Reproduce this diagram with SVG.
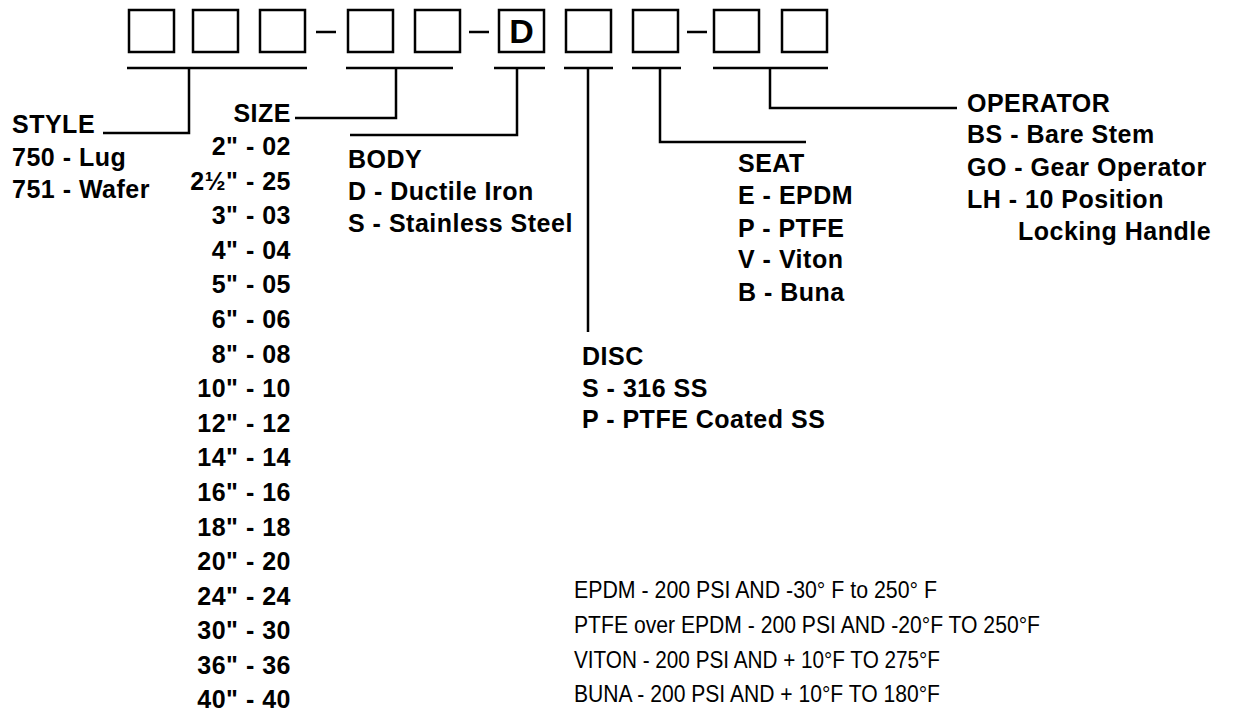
<svg xmlns="http://www.w3.org/2000/svg" width="1233" height="713" viewBox="0 0 1233 713">
<style>
.b{font-family:"Liberation Sans",Arial,sans-serif;font-weight:bold;font-size:25px;letter-spacing:0.5px;fill:#000}
.r{font-family:"Liberation Sans",Arial,sans-serif;font-size:23.5px;fill:#000}
.box{fill:#fff;stroke:#000;stroke-width:2.5}
.ln{fill:none;stroke:#000;stroke-width:2.5}
.e{text-anchor:end}
</style>
<rect width="1233" height="713" fill="#fff"/>
<g id="code-boxes">
<rect class="box" x="129" y="10" width="45" height="42"/>
<rect class="box" x="193" y="10" width="45" height="42"/>
<rect class="box" x="260" y="10" width="45" height="42"/>
<rect class="box" x="348" y="10" width="45" height="42"/>
<rect class="box" x="415" y="10" width="45" height="42"/>
<rect class="box" x="499" y="10" width="45" height="42"/>
<rect class="box" x="566" y="10" width="45" height="42"/>
<rect class="box" x="633" y="10" width="45" height="42"/>
<rect class="box" x="714" y="10" width="45" height="42"/>
<rect class="box" x="782" y="10" width="45" height="42"/>
<text x="521.5" y="43" text-anchor="middle" font-family="'Liberation Sans',Arial,sans-serif" font-size="34" font-weight="bold">D</text>
<path class="ln" d="M316 32H336M469 32H489M687 32H707"/>
</g>
<g id="connectors">
<path class="ln" d="M127 68H307M189 68V133H103"/>
<path class="ln" d="M346 68H453M396 68V118H295"/>
<path class="ln" d="M494 68H545M517 68V135H350"/>
<path class="ln" d="M564 68H613M588 68V332"/>
<path class="ln" d="M632 68H681M660 68V142H806"/>
<path class="ln" d="M713 68H828M770 68V108H957"/>
</g>
<g id="style">
<text class="b" x="12" y="133">STYLE</text>
<text class="b" x="12" y="166">750 - Lug</text>
<text class="b" x="12" y="198">751 - Wafer</text>
</g>
<g id="size">
<text class="b e" x="291" y="122">SIZE</text>
<text class="b e" x="291" y="155">2" - 02</text>
<text class="b e" x="291" y="190">2½" - 25</text>
<text class="b e" x="291" y="224">3" - 03</text>
<text class="b e" x="291" y="259">4" - 04</text>
<text class="b e" x="291" y="293">5" - 05</text>
<text class="b e" x="291" y="328">6" - 06</text>
<text class="b e" x="291" y="363">8" - 08</text>
<text class="b e" x="291" y="397">10" - 10</text>
<text class="b e" x="291" y="432">12" - 12</text>
<text class="b e" x="291" y="466">14" - 14</text>
<text class="b e" x="291" y="501">16" - 16</text>
<text class="b e" x="291" y="536">18" - 18</text>
<text class="b e" x="291" y="570">20" - 20</text>
<text class="b e" x="291" y="605">24" - 24</text>
<text class="b e" x="291" y="639">30" - 30</text>
<text class="b e" x="291" y="674">36" - 36</text>
<text class="b e" x="291" y="708">40" - 40</text>
</g>
<g id="body">
<text class="b" x="348" y="168">BODY</text>
<text class="b" x="348" y="200">D - Ductile Iron</text>
<text class="b" x="348" y="232">S - Stainless Steel</text>
</g>
<g id="disc">
<text class="b" x="582" y="365">DISC</text>
<text class="b" x="582" y="397">S - 316 SS</text>
<text class="b" x="582" y="428">P - PTFE Coated SS</text>
</g>
<g id="seat">
<text class="b" x="738" y="172">SEAT</text>
<text class="b" x="738" y="204">E - EPDM</text>
<text class="b" x="738" y="237">P - PTFE</text>
<text class="b" x="738" y="268">V - Viton</text>
<text class="b" x="738" y="301">B - Buna</text>
</g>
<g id="operator">
<text class="b" x="967" y="112">OPERATOR</text>
<text class="b" x="967" y="143">BS - Bare Stem</text>
<text class="b" x="967" y="176">GO - Gear Operator</text>
<text class="b" x="967" y="208">LH - 10 Position</text>
<text class="b" x="1018" y="240">Locking Handle</text>
</g>
<g id="ratings">
<text class="r" x="574" y="598" textLength="363" lengthAdjust="spacingAndGlyphs">EPDM - 200 PSI AND -30° F to 250° F</text>
<text class="r" x="574" y="633" textLength="466" lengthAdjust="spacingAndGlyphs">PTFE over EPDM - 200 PSI AND -20°F TO 250°F</text>
<text class="r" x="574" y="668" textLength="366" lengthAdjust="spacingAndGlyphs">VITON - 200 PSI AND + 10°F TO 275°F</text>
<text class="r" x="574" y="702" textLength="366" lengthAdjust="spacingAndGlyphs">BUNA - 200 PSI AND + 10°F TO 180°F</text>
</g>
</svg>
